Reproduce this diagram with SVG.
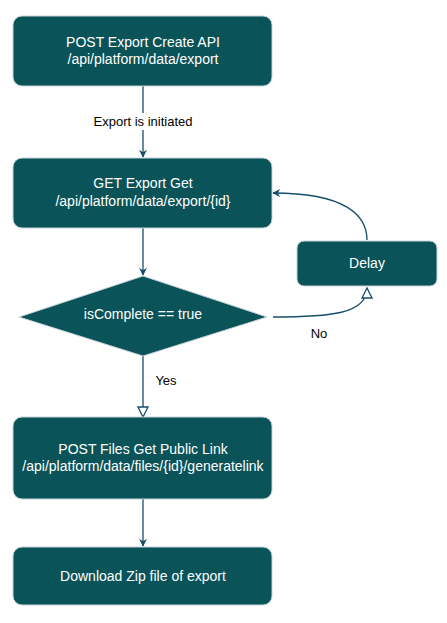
<svg xmlns="http://www.w3.org/2000/svg" width="447" height="623" viewBox="0 0 447 623">
<style>
.node{fill:#0a5359;stroke:#c5d3d8;stroke-width:1}
.t{font-family:"Liberation Sans",Arial,sans-serif;font-size:14px;fill:#ffffff;text-anchor:middle}
.lbl{font-family:"Liberation Sans",Arial,sans-serif;font-size:13px;fill:#000000;text-anchor:middle}
.edge{fill:none;stroke:#174f6b;stroke-width:1.3}
</style>
<defs>
<marker id="solid" viewBox="0 0 10 10" refX="9" refY="5" markerWidth="8" markerHeight="8" markerUnits="userSpaceOnUse" orient="auto">
<path d="M0,0 L10,5 L0,10 L3,5 Z" fill="#174f6b" stroke="none"/>
</marker>
<marker id="hollow" viewBox="0 0 12 12" refX="11" refY="6" markerWidth="12" markerHeight="12" markerUnits="userSpaceOnUse" orient="auto">
<path d="M1,1 L11,6 L1,11 Z" fill="#ffffff" stroke="#174f6b" stroke-width="1.3"/>
</marker>
</defs>
<rect width="447" height="623" fill="#ffffff"/>
<g id="connectors">
<path class="edge" d="M143,86 V113" />
<path class="edge" d="M143,130 V157" marker-end="url(#solid)"/>
<path class="edge" d="M143,228 V275" marker-end="url(#solid)"/>
<path class="edge" d="M143,356 V417" marker-end="url(#hollow)"/>
<path class="edge" d="M143,499 V546" marker-end="url(#solid)"/>
<path class="edge" d="M273,317 C330,317 367,314 367,288" marker-end="url(#hollow)"/>
<path class="edge" d="M367,240 C367,215 345,193 273,193" marker-end="url(#solid)"/>
<text class="lbl" x="143" y="126">Export is initiated</text>
<text class="lbl" x="166" y="385">Yes</text>
<text class="lbl" x="319" y="338">No</text>
</g>
<g id="export-create">
<rect class="node" x="13" y="16" width="259" height="70" rx="9"/>
<text class="t" x="143" y="47">POST Export Create API</text>
<text class="t" x="143" y="64">/api/platform/data/export</text>
</g>
<g id="export-get">
<rect class="node" x="13" y="158" width="259" height="70" rx="9"/>
<text class="t" x="143" y="188">GET Export Get</text>
<text class="t" x="143" y="206">/api/platform/data/export/{id}</text>
</g>
<g id="is-complete">
<polygon class="node" points="143,276 267,317 143,356 19,317"/>
<text class="t" x="143" y="319">isComplete == true</text>
</g>
<g id="delay">
<rect class="node" x="297" y="241" width="140" height="45" rx="7"/>
<text class="t" x="367" y="268">Delay</text>
</g>
<g id="public-link">
<rect class="node" x="13" y="417" width="259" height="82" rx="9"/>
<text class="t" x="143" y="454">POST Files Get Public Link</text>
<text class="t" x="143" y="471">/api/platform/data/files/{id}/generatelink</text>
</g>
<g id="download">
<rect class="node" x="13" y="547" width="259" height="58" rx="9"/>
<text class="t" x="143" y="581">Download Zip file of export</text>
</g>
</svg>
